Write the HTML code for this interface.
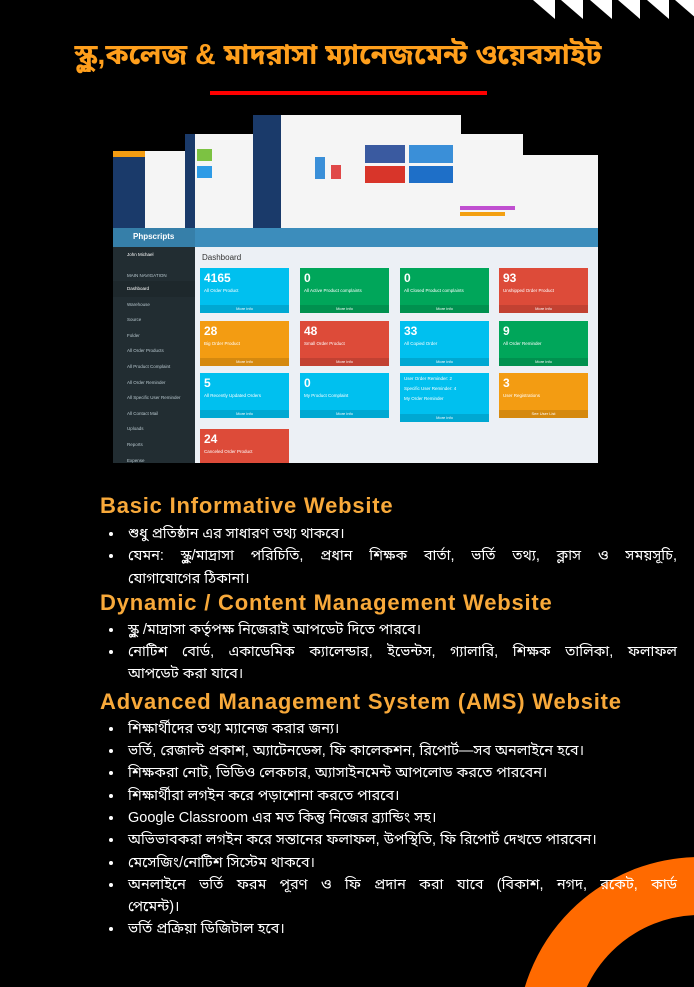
<!DOCTYPE html>
<html><head><meta charset="utf-8">
<style>
*{margin:0;padding:0;box-sizing:border-box}
html{width:694px;height:987px;overflow:hidden;background:#000}
body{width:694px;height:987px;background:#000;position:relative;overflow:hidden;font-family:"Liberation Sans",sans-serif}
.tri{position:absolute;top:0;width:0;height:0;border-top:19px solid #fff;border-left:22px solid transparent}
.title{position:absolute;top:38px;left:-9px;width:694px;text-align:center;color:#ff9f1c;font-size:28.5px;font-weight:bold;font-family:"Liberation Sans","Noto Sans Bengali",sans-serif;white-space:nowrap}
.rl{position:absolute;left:210px;top:91px;width:277px;height:4px;background:#f00}
.ringwrap{position:absolute;left:0;top:0;width:694px;height:987px;overflow:hidden}
.ring{position:absolute;left:517px;top:857px;width:366px;height:366px;border-radius:50%;border:58px solid #ff6a00}
.sec{position:absolute;left:100px;width:580px;color:#fff;font-family:"Liberation Sans","Noto Sans Bengali",sans-serif}
.sec h2{color:#f8a93a;font-size:22px;letter-spacing:0.8px;font-weight:bold;line-height:26px;height:26px;white-space:nowrap}
.sec ul{margin-left:24px;font-size:14.5px;line-height:22.3px;width:553px}
.sec li{padding-left:4px}
.j{display:block;text-align:justify;text-align-last:justify}
.dash{position:absolute;left:113px;top:228px;width:485px;height:235px;background:#ecf0f5;overflow:hidden}
.hdr{position:absolute;left:0;top:0;width:485px;height:19px;background:#3c8dbc}
.logo{position:absolute;left:0;top:0;width:82px;height:19px;background:#367fa9;color:#fff;font-size:8px;font-weight:bold;padding:4px 0 0 20px}
.side{position:absolute;left:0;top:19px;width:82px;height:216px;background:#222d32;color:#b8c7ce;font-size:4.5px}
.side div{height:15.6px;padding:5px 0 0 14px}
.tile{position:absolute;width:89px;height:45px;color:#fff;font-weight:bold}
.tile b{display:block;font-size:12px;padding:3px 0 0 4px}
.tile i{display:block;font-style:normal;font-size:4.5px;padding:3px 0 0 4px;font-weight:normal}
.tile s{position:absolute;bottom:0;left:0;width:100%;height:8px;background:rgba(0,0,0,.12);text-decoration:none;font-size:4px;text-align:center;line-height:8px;font-weight:normal}
.c{background:#00c0ef}.g{background:#00a65a}.r{background:#dd4b39}.o{background:#f39c12}
.shot{position:absolute;background:#f5f5f5;overflow:hidden}
</style></head><body>
<div class="tri" style="left:533px"></div><div class="tri" style="left:561px"></div><div class="tri" style="left:590px"></div><div class="tri" style="left:618px"></div><div class="tri" style="left:647px"></div><div class="tri" style="left:675px"></div>
<div class="title">স্কুল,কলেজ &amp; মাদরাসা ম্যানেজমেন্ট ওয়েবসাইট</div>
<div class="rl"></div>

<div class="shot" style="left:113px;top:151px;width:75px;height:77px"><div style="width:32px;height:77px;background:#1a3a6a"></div><div style="position:absolute;left:0;top:0;width:32px;height:6px;background:#f39c12"></div></div>
<div class="shot" style="left:185px;top:134px;width:80px;height:94px"><div style="width:10px;height:94px;background:#1a3a6a"></div><div style="position:absolute;left:12px;top:15px;width:15px;height:12px;background:#7cc242"></div><div style="position:absolute;left:12px;top:32px;width:15px;height:12px;background:#2e9be6"></div></div>
<div class="shot" style="left:253px;top:115px;width:108px;height:113px;background:#1a3a6a"></div>
<div class="shot" style="left:281px;top:115px;width:180px;height:113px"><div style="position:absolute;left:84px;top:30px;width:40px;height:18px;background:#3a5aa0"></div><div style="position:absolute;left:128px;top:30px;width:44px;height:18px;background:#3a8fd8"></div><div style="position:absolute;left:84px;top:51px;width:40px;height:17px;background:#d8352a"></div><div style="position:absolute;left:128px;top:51px;width:44px;height:17px;background:#1e6fc8"></div><div style="position:absolute;left:34px;top:42px;width:10px;height:22px;background:#3a8fd8"></div><div style="position:absolute;left:50px;top:50px;width:10px;height:14px;background:#e04848"></div></div>
<div class="shot" style="left:460px;top:134px;width:63px;height:94px"><div style="position:absolute;left:0;top:72px;width:55px;height:4px;background:#c04fd0"></div><div style="position:absolute;left:0;top:78px;width:45px;height:4px;background:#f3a012"></div></div>
<div class="shot" style="left:523px;top:155px;width:75px;height:73px"></div>

<div class="dash">
<div class="hdr"></div>
<div class="logo">Phpscripts</div>
<div class="side">
<div style="height:24px;color:#fff">John Michael</div>
<div style="height:10px;padding-top:2px">MAIN NAVIGATION</div>
<div style="background:#1e282c;color:#fff">Dashboard</div><div>Warehouse</div><div>Source</div><div>Folder</div><div>All Order Products</div><div>All Product Complaint</div><div>All Order Reminder</div><div>All Specific User Reminder</div><div>All Contact Mail</div><div>Uploads</div><div>Reports</div><div>Expense</div>
</div>
<div style="position:absolute;left:89px;top:25px;font-size:8px;color:#333">Dashboard</div>
<div class="tile c" style="left:87px;top:40px"><b>4165</b><i>All Order Product</i><s>More info</s></div>
<div class="tile g" style="left:187px;top:40px"><b>0</b><i>All Active Product complaints</i><s>More info</s></div>
<div class="tile g" style="left:287px;top:40px"><b>0</b><i>All Closed Product complaints</i><s>More info</s></div>
<div class="tile r" style="left:386px;top:40px"><b>93</b><i>Unshipped Order Product</i><s>More info</s></div>
<div class="tile o" style="left:87px;top:93px"><b>28</b><i>Big Order Product</i><s>More info</s></div>
<div class="tile r" style="left:187px;top:93px"><b>48</b><i>Small Order Product</i><s>More info</s></div>
<div class="tile c" style="left:287px;top:93px"><b>33</b><i>All Copied Order</i><s>More info</s></div>
<div class="tile g" style="left:386px;top:93px"><b>9</b><i>All Order Reminder</i><s>More info</s></div>
<div class="tile c" style="left:87px;top:145px"><b>5</b><i>All Recently Updated Orders</i><s>More info</s></div>
<div class="tile c" style="left:187px;top:145px"><b>0</b><i>My Product Complaint</i><s>More info</s></div>
<div class="tile c" style="left:287px;top:145px;height:49px"><i>User Order Reminder: 2<br><br>Specific User Reminder: 4<br><br>My Order Reminder</i><s>More info</s></div>
<div class="tile o" style="left:386px;top:145px"><b>3</b><i>User Registrations</i><s>See User List</s></div>
<div class="tile r" style="left:87px;top:201px"><b>24</b><i>Canceled Order Product</i></div>
</div>

<div class="ringwrap"><div class="ring"></div></div>

<div class="sec" style="top:493px">
<h2>Basic Informative Website</h2>
<ul style="margin-top:4px">
<li>শুধু প্রতিষ্ঠান এর সাধারণ তথ্য থাকবে।</li>
<li><span class="j">যেমন: স্কুল/মাদ্রাসা পরিচিতি, প্রধান শিক্ষক বার্তা, ভর্তি তথ্য, ক্লাস ও সময়সূচি,</span>যোগাযোগের ঠিকানা।</li>
</ul>
<h2>Dynamic / Content Management Website</h2>
<ul style="margin-top:3px">
<li>স্কুল /মাদ্রাসা কর্তৃপক্ষ নিজেরাই আপডেট দিতে পারবে।</li>
<li><span class="j">নোটিশ বোর্ড, একাডেমিক ক্যালেন্ডার, ইভেন্টস, গ্যালারি, শিক্ষক তালিকা, ফলাফল</span>আপডেট করা যাবে।</li>
</ul>
<h2 style="margin-top:3px">Advanced Management System (AMS) Website</h2>
<ul style="margin-top:3px">
<li>শিক্ষার্থীদের তথ্য ম্যানেজ করার জন্য।</li>
<li>ভর্তি, রেজাল্ট প্রকাশ, অ্যাটেনডেন্স, ফি কালেকশন, রিপোর্ট—সব অনলাইনে হবে।</li>
<li>শিক্ষকরা নোট, ভিডিও লেকচার, অ্যাসাইনমেন্ট আপলোড করতে পারবেন।</li>
<li>শিক্ষার্থীরা লগইন করে পড়াশোনা করতে পারবে।</li>
<li>Google Classroom এর মত কিন্তু নিজের ব্র্যান্ডিং সহ।</li>
<li>অভিভাবকরা লগইন করে সন্তানের ফলাফল, উপস্থিতি, ফি রিপোর্ট দেখতে পারবেন।</li>
<li>মেসেজিং/নোটিশ সিস্টেম থাকবে।</li>
<li><span class="j">অনলাইনে ভর্তি ফরম পূরণ ও ফি প্রদান করা যাবে (বিকাশ, নগদ, রকেট, কার্ড</span>পেমেন্ট)।</li>
<li>ভর্তি প্রক্রিয়া ডিজিটাল হবে।</li>
</ul>
</div>
</body></html>
